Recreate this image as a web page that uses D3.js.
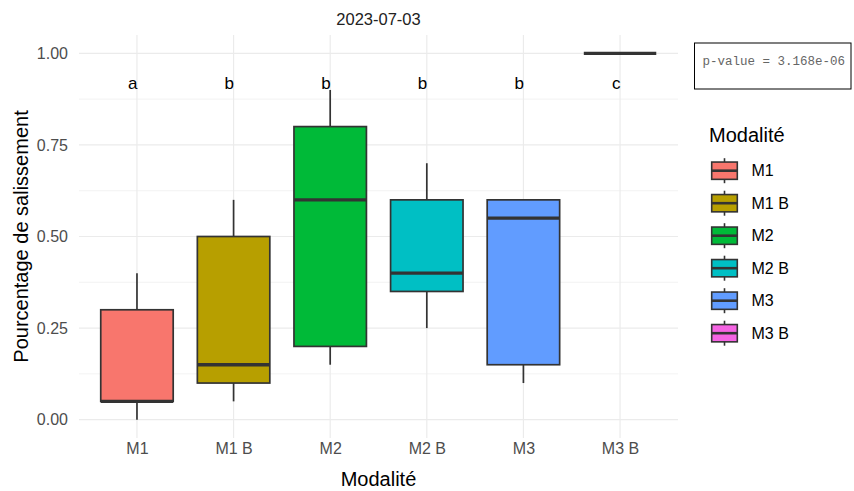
<!DOCTYPE html>
<html><head><meta charset="utf-8">
<script src="https://cdn.jsdelivr.net/npm/d3@7"></script>
<style>body{margin:0;background:#fff}svg{display:block}</style>
</head><body>
<svg id="chart" width="854" height="491"></svg>
<script>
const categories = ["M1", "M1 B", "M2", "M2 B", "M3", "M3 B"];
const colors = ["#F8766D", "#B79F00", "#00BA38", "#00BFC4", "#619CFF", "#F564E3"];
const whiskerLow = [0.00, 0.05, 0.15, 0.25, 0.10, 1.00];
const q1 = [0.05, 0.10, 0.20, 0.35, 0.15, 1.00];
const median = [0.05, 0.15, 0.60, 0.40, 0.55, 1.00];
const q3 = [0.30, 0.50, 0.80, 0.60, 0.60, 1.00];
const whiskerHigh = [0.40, 0.60, 0.90, 0.70, 0.60, 1.00];
const letters = ["a", "b", "b", "b", "b", "c"];
const letterY = 0.92;
const yTicks = [0, 0.25, 0.5, 0.75, 1.0];
const yMinor = [0.125, 0.375, 0.625, 0.875];
const title = "2023-07-03";
const pLabel = "p-value = 3.168e-06";

const svg = d3.select("#chart");
const P = {left: 79, right: 678, top: 35, bottom: 438};
const FONT = "Liberation Sans, Arial, sans-serif";
const INK = "#333333";

const x = d3.scalePoint().domain(categories).range([P.left, P.right]).padding(0.6);
const step = x.step();
const y = d3.scaleLinear().domain([-0.05, 1.05]).range([P.bottom, P.top]);
const bw = step * 0.75;

// grid
const g = svg.append("g");
g.selectAll(".minor").data(yMinor).join("line")
  .attr("x1", P.left).attr("x2", P.right)
  .attr("y1", d => y(d)).attr("y2", d => y(d))
  .attr("stroke", "#ebebeb").attr("stroke-width", 0.6);
g.selectAll(".major").data(yTicks).join("line")
  .attr("x1", P.left).attr("x2", P.right)
  .attr("y1", d => y(d)).attr("y2", d => y(d))
  .attr("stroke", "#ebebeb").attr("stroke-width", 1.2);
g.selectAll(".vmajor").data(categories).join("line")
  .attr("x1", d => x(d)).attr("x2", d => x(d))
  .attr("y1", P.top).attr("y2", P.bottom)
  .attr("stroke", "#ebebeb").attr("stroke-width", 1.2);

// axes (text only)
const yAxis = svg.append("g").attr("transform", `translate(${P.left - 11},0)`)
  .call(d3.axisLeft(y).tickValues(yTicks).tickFormat(d3.format(".2f")).tickSize(0).tickPadding(0));
yAxis.select(".domain").remove();
yAxis.selectAll("text").attr("font-family", FONT)
  .attr("font-size", 16).attr("fill", "#4d4d4d");

const xAxis = svg.append("g").attr("transform", `translate(0,${P.bottom + 5})`)
  .call(d3.axisBottom(x).tickSize(0).tickPadding(0));
xAxis.select(".domain").remove();
xAxis.selectAll("text").attr("font-family", FONT)
  .attr("font-size", 16).attr("fill", "#4d4d4d").attr("dy", "0.71em");

// boxes
const data = categories.map((c, i) => ({c, i, lo: whiskerLow[i], q1: q1[i], med: median[i], q3: q3[i], hi: whiskerHigh[i], col: colors[i]}));
const bg = svg.append("g");
data.forEach(d => {
  const cx = x(d.c);
  const grp = bg.append("g");
  grp.append("line").attr("x1", cx).attr("x2", cx).attr("y1", y(d.hi)).attr("y2", y(d.q3))
    .attr("stroke", INK).attr("stroke-width", 1.7);
  grp.append("line").attr("x1", cx).attr("x2", cx).attr("y1", y(d.q1)).attr("y2", y(d.lo))
    .attr("stroke", INK).attr("stroke-width", 1.7);
  grp.append("rect").attr("x", cx - bw / 2).attr("width", bw)
    .attr("y", y(d.q3)).attr("height", Math.max(0, y(d.q1) - y(d.q3)))
    .attr("fill", d.col).attr("stroke", INK).attr("stroke-width", 1.7);
  grp.append("line").attr("x1", cx - bw / 2).attr("x2", cx + bw / 2)
    .attr("y1", y(d.med)).attr("y2", y(d.med))
    .attr("stroke", INK).attr("stroke-width", 3.3);
});

// letters
svg.append("g").selectAll("text").data(letters).join("text")
  .attr("x", (d, i) => x(categories[i]) + 0.5)
  .attr("y", y(letterY)).attr("dy", "0.36em")
  .attr("text-anchor", "end")
  .attr("font-family", FONT).attr("font-size", 17)
  .attr("fill", "#000").text(d => d);

// titles
svg.append("text").attr("x", (P.left + P.right) / 2).attr("y", 25).attr("text-anchor", "middle")
  .attr("font-family", FONT).attr("font-size", 16.5).attr("fill", "#222")
  .text(title);
svg.append("text").attr("x", (P.left + P.right) / 2).attr("y", 485.5).attr("text-anchor", "middle")
  .attr("font-family", FONT).attr("font-size", 20).attr("fill", "#000")
  .text("Modalité");
svg.append("text").attr("transform", `translate(28,${(P.top + P.bottom) / 2}) rotate(-90)`)
  .attr("text-anchor", "middle")
  .attr("font-family", FONT).attr("font-size", 20).attr("fill", "#000")
  .text("Pourcentage de salissement");

// p-value box
svg.append("rect").attr("x", 694.5).attr("y", 43).attr("width", 156.5).attr("height", 46)
  .attr("fill", "#fff").attr("stroke", "#000").attr("stroke-width", 1);
svg.append("text").attr("x", 702.5).attr("y", 64.5)
  .attr("font-family", "Liberation Mono, Courier New, monospace").attr("font-size", 12.5)
  .attr("fill", "#666").text(pLabel);

// legend
const lg = svg.append("g");
lg.append("text").attr("x", 709).attr("y", 142)
  .attr("font-family", FONT).attr("font-size", 20).attr("fill", "#000")
  .text("Modalité");
const keyStep = 32.5, key0 = 170.7, kx = 724.5, kw = 25.6, kh = 17.3;
const items = lg.selectAll(".item").data(categories).join("g")
  .attr("transform", (d, i) => `translate(0,${key0 + i * keyStep})`);
items.append("line").attr("x1", kx).attr("x2", kx).attr("y1", -12.5).attr("y2", 12.5)
  .attr("stroke", INK).attr("stroke-width", 1.6);
items.append("rect").attr("x", kx - kw / 2).attr("y", -kh / 2).attr("width", kw).attr("height", kh)
  .attr("fill", (d, i) => colors[i]).attr("stroke", INK).attr("stroke-width", 1.6);
items.append("line").attr("x1", kx - kw / 2).attr("x2", kx + kw / 2).attr("y1", 0).attr("y2", 0)
  .attr("stroke", INK).attr("stroke-width", 2.6);
items.append("text").attr("x", 751.5).attr("y", 0).attr("dy", "0.36em")
  .attr("font-family", FONT).attr("font-size", 16).attr("fill", "#000")
  .text(d => d);
</script>
</body></html>
